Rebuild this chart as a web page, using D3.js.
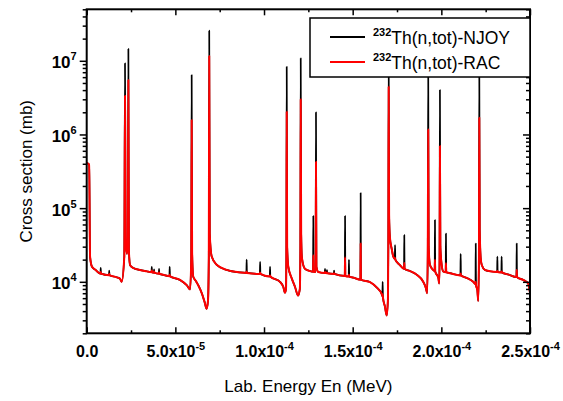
<!DOCTYPE html>
<html>
<head>
<meta charset="utf-8">
<script src="https://cdn.jsdelivr.net/npm/d3@7"></script>
<style>
  html, body { margin: 0; padding: 0; background: #fff; }
  svg { display: block; font-family: "Liberation Sans", Arial, sans-serif; }
</style>
</head>
<body>
<svg id="chart" width="563" height="401"></svg>
<script>
// 232Th total cross section, 0 - 250 eV (energies in eV, cross sections in mb)
const energyEv = [
  0, 1.4, 1.9, 3.0, 5.0,
  7.75, 7.9, 8.05, 12.55, 12.7, 12.85,
  17.0, 18.8, 19.7, 21.2, 21.6, 22.0, 22.7, 23.2, 23.5, 23.8, 24.5, 26.3, 30.0, 33.8,
  36.55, 36.7, 36.85, 37.85, 38.0, 38.15, 40.65, 40.8, 40.95, 44.0, 46.65, 46.8, 46.95,
  52.6, 56.4, 58.3, 58.95, 59.2, 59.45, 60.1, 61.5, 62.9, 65.0, 66.5, 67.6, 68.4, 68.85,
  69.1, 69.4, 70.5, 73.3, 79.0, 86.5,
  90.05, 90.2, 90.35, 97.65, 97.8, 97.95, 103.25, 103.4, 103.55,
  109.0, 110.9, 111.8, 112.4, 112.6, 112.8, 113.05, 113.7, 115.6, 117.5, 119.2, 120.2, 120.5,
  120.7, 120.95, 121.4, 123.1, 125.9,
  127.65, 127.8, 127.95, 129.1, 129.3, 129.55, 130.6,
  134.25, 134.4, 134.55, 135.35, 135.5, 135.65, 139.35, 139.5, 139.65,
  145.55, 145.7, 145.85, 147.75, 147.9, 148.05, 150.4, 154.35, 154.5, 154.65,
  159.8, 163.5, 166.4, 166.75, 166.9, 167.05, 168.2, 169.2, 169.9, 170.1, 170.3, 170.55,
  171.0, 172.0, 172.9, 173.75, 173.9, 174.05, 176.5, 178.95, 179.1, 179.25,
  182.3, 186.1, 189.8, 191.3, 192.0, 192.35, 192.6, 192.85, 193.6, 195.0,
  196.25, 196.4, 196.55, 198.3, 198.8, 199.0, 199.2, 199.45, 200.2, 201.1,
  202.45, 202.6, 202.75, 204.9, 210.75, 210.9, 211.05, 214.3, 218.0,
  219.25, 219.4, 219.55, 220.3, 220.8, 221.2, 221.4, 221.65, 222.2, 222.8, 224.6, 227.4,
  231.45, 231.6, 231.75, 233.85, 234.0, 234.15, 238.0, 242.35, 242.5, 242.65,
  246.2, 249.0, 250.0
];

const njoyMb = [
  4.1e5, 3.9e5, 2.2e4, 1.6e4, 1.45e4,
  1.29e4, 1.55e4, 1.29e4, 1.23e4, 1.42e4, 1.23e4,
  1.15e4, 1.1e4, 1.0e4, 2.2e4, 9.25e6, 3.5e4, 2.4e4, 4.0e4, 1.45e7, 2.6e4, 1.68e4, 1.54e4, 1.45e4, 1.39e4,
  1.35e4, 1.6e4, 1.35e4, 1.33e4, 1.48e4, 1.33e4, 1.29e4, 1.5e4, 1.29e4, 1.23e4, 1.19e4, 1.6e4, 1.19e4,
  1.06e4, 9.0e3, 7.9e3, 2.0e4, 6.4e6, 2.5e4, 1.17e4, 1.03e4, 9.0e3, 6.9e3, 5.3e3, 4.3e3, 5.5e3, 2.0e4,
  2.56e7, 4.5e4, 2.2e4, 1.7e4, 1.45e4, 1.34e4,
  1.32e4, 2.0e4, 1.32e4, 1.28e4, 1.87e4, 1.28e4, 1.18e4, 1.6e4, 1.18e4,
  1.0e4, 8.5e3, 7.1e3, 8.0e3, 2.5e4, 8.3e6, 3.0e4, 1.6e4, 1.12e4, 8.5e3, 6.5e3, 8.0e3, 3.0e4,
  1.08e7, 4.5e4, 2.1e4, 1.5e4, 1.4e4,
  1.37e4, 7.8e4, 1.37e4, 1.36e4, 2.0e6, 1.6e4, 1.36e4,
  1.32e4, 1.5e4, 1.32e4, 1.31e4, 1.44e4, 1.31e4, 1.28e4, 1.42e4, 1.28e4,
  1.2e4, 7.8e4, 1.2e4, 1.18e4, 1.98e4, 1.18e4, 1.14e4, 1.07e4, 1.6e5, 1.07e4,
  9.9e3, 8.4e3, 6.8e3, 6.4e3, 1.0e4, 6.2e3, 4.6e3, 3.5e3, 6.0e3, 3.0e4, 1.2e7, 8.0e4,
  4.0e4, 2.8e4, 2.2e4, 2.05e4, 3.15e4, 2.0e4, 1.7e4, 1.5e4, 4.3e4, 1.5e4,
  1.4e4, 1.25e4, 1.0e4, 8.2e3, 7.0e3, 2.5e4, 8.0e6, 3.0e4, 1.69e4, 1.48e4,
  1.4e4, 6.9e4, 1.38e4, 1.13e4, 9.5e3, 2.0e4, 4.0e6, 3.0e4, 1.69e4, 1.38e4,
  1.35e4, 4.5e4, 1.35e4, 1.31e4, 1.22e4, 2.4e4, 1.22e4, 1.13e4, 1.0e4,
  9.3e3, 3.3e4, 9.0e3, 7.7e3, 5.5e3, 2.0e4, 8.0e6, 5.0e4, 2.1e4, 1.69e4, 1.45e4, 1.39e4,
  1.36e4, 2.2e4, 1.36e4, 1.34e4, 2.2e4, 1.34e4, 1.25e4, 1.16e4, 3.3e4, 1.16e4,
  1.06e4, 9.5e3, 7.0e3
];

const racMb = [
  4.1e5, 3.9e5, 2.2e4, 1.6e4, 1.45e4,
  1.29e4, 1.36e4, 1.29e4, 1.23e4, 1.28e4, 1.23e4,
  1.15e4, 1.1e4, 1.0e4, 2.2e4, 3.36e6, 3.5e4, 2.4e4, 4.0e4, 5.5e6, 2.6e4, 1.68e4, 1.54e4, 1.45e4, 1.39e4,
  1.35e4, 1.42e4, 1.35e4, 1.33e4, 1.38e4, 1.33e4, 1.29e4, 1.34e4, 1.29e4, 1.23e4, 1.19e4, 1.25e4, 1.19e4,
  1.06e4, 9.0e3, 7.9e3, 2.0e4, 1.57e6, 2.5e4, 1.17e4, 1.03e4, 9.0e3, 6.9e3, 5.3e3, 4.3e3, 5.5e3, 2.0e4,
  1.16e7, 4.5e4, 2.2e4, 1.7e4, 1.45e4, 1.34e4,
  1.32e4, 1.38e4, 1.32e4, 1.28e4, 1.33e4, 1.28e4, 1.18e4, 1.22e4, 1.18e4,
  1.0e4, 8.5e3, 7.1e3, 8.0e3, 2.5e4, 2.04e6, 3.0e4, 1.6e4, 1.12e4, 8.5e3, 6.5e3, 8.0e3, 3.0e4,
  3.0e6, 4.5e4, 2.1e4, 1.5e4, 1.4e4,
  1.37e4, 2.3e4, 1.37e4, 1.36e4, 4.27e5, 1.6e4, 1.36e4,
  1.32e4, 1.36e4, 1.32e4, 1.31e4, 1.34e4, 1.31e4, 1.28e4, 1.31e4, 1.28e4,
  1.2e4, 2.15e4, 1.2e4, 1.18e4, 1.25e4, 1.18e4, 1.14e4, 1.07e4, 3.3e4, 1.07e4,
  9.9e3, 8.4e3, 6.8e3, 6.4e3, 6.8e3, 6.2e3, 4.6e3, 3.5e3, 6.0e3, 3.0e4, 4.45e6, 8.0e4,
  4.0e4, 2.8e4, 2.2e4, 2.05e4, 2.1e4, 2.0e4, 1.7e4, 1.5e4, 1.8e4, 1.5e4,
  1.4e4, 1.25e4, 1.0e4, 8.2e3, 7.0e3, 2.5e4, 1.17e6, 3.0e4, 1.69e4, 1.48e4,
  1.4e4, 2.0e4, 1.38e4, 1.13e4, 9.5e3, 2.0e4, 7.0e5, 3.0e4, 1.69e4, 1.38e4,
  1.35e4, 1.78e4, 1.35e4, 1.31e4, 1.22e4, 1.3e4, 1.22e4, 1.13e4, 1.0e4,
  9.3e3, 1.0e4, 9.0e3, 7.7e3, 5.5e3, 2.0e4, 1.69e6, 5.0e4, 2.1e4, 1.69e4, 1.45e4, 1.39e4,
  1.36e4, 1.4e4, 1.36e4, 1.34e4, 1.38e4, 1.34e4, 1.25e4, 1.16e4, 1.45e4, 1.16e4,
  1.06e4, 9.5e3, 7.0e3
];

const seriesNames = ["Th(n,tot)-NJOY", "Th(n,tot)-RAC"];
const seriesColors = ["#000000", "#ff0000"];

// axis ticks (energy axis in MeV)
const xTickValues = [0, 5e-5, 1e-4, 1.5e-4, 2e-4, 2.5e-4];
const xTickMantissa = ["0.0", "5.0x10", "1.0x10", "1.5x10", "2.0x10", "2.5x10"];
const xTickExponent = ["", "-5", "-4", "-4", "-4", "-4"];
const xMinorValues = [2.5e-5, 7.5e-5, 1.25e-4, 1.75e-4, 2.25e-4];
const yTickValues = [1e4, 1e5, 1e6, 1e7];
const yTickExponent = ["4", "5", "6", "7"];

const EV_TO_MEV = 1e-6;
const box = { left: 86.7, right: 530, top: 9.3, bottom: 333.3 };

const svg = d3.select("#chart");

const x = d3.scaleLinear().domain([0, 2.5e-4]).range([box.left, box.right]);
const y = d3.scaleLog().domain([2e3, 5e7]).range([box.bottom, box.top]);
const yMinor = y.ticks().filter(v => !yTickValues.includes(v) && Math.abs(Math.log10(v) % 1) > 1e-9);

svg.append("defs").append("clipPath").attr("id", "plotclip")
  .append("rect")
  .attr("x", box.left).attr("y", box.top)
  .attr("width", box.right - box.left).attr("height", box.bottom - box.top);

// curves
const points = energyEv.map((e, i) => ({ e: e * EV_TO_MEV, njoy: njoyMb[i], rac: racMb[i] }));
const lineFor = key => d3.line()
  .x(d => x(d.e))
  .y(d => y(d[key]))
  .curve(d3.curveMonotoneX);

const curves = svg.append("g").attr("clip-path", "url(#plotclip)");
curves.append("path").datum(points)
  .attr("d", lineFor("njoy"))
  .attr("fill", "none").attr("stroke", seriesColors[0]).attr("stroke-width", 1.7)
  .attr("stroke-linejoin", "round");
curves.append("path").datum(points)
  .attr("d", lineFor("rac"))
  .attr("fill", "none").attr("stroke", seriesColors[1]).attr("stroke-width", 2)
  .attr("stroke-linejoin", "round");

// axes
const noDomain = g => g.select(".domain").remove();
const styleTicks = g => g.selectAll("line").attr("stroke", "#000").attr("stroke-width", 1.5);

function addAxis(axis, tx, ty) {
  return svg.append("g").attr("transform", `translate(${tx},${ty})`)
    .call(axis).call(noDomain).call(styleTicks)
    .call(g => g.selectAll("text").remove());
}

// left (outward), right (inward)
addAxis(d3.axisLeft(y).tickValues(yMinor).tickSize(4), box.left, 0);
const gLeft = addAxis(d3.axisLeft(y).tickValues(yTickValues).tickSize(7), box.left, 0);
addAxis(d3.axisLeft(y).tickValues(yMinor).tickSize(4), box.right, 0);
addAxis(d3.axisLeft(y).tickValues(yTickValues).tickSize(7), box.right, 0);

// bottom and top (inward)
addAxis(d3.axisTop(x).tickValues(xMinorValues).tickSize(3), 0, box.bottom);
const gBottom = addAxis(d3.axisTop(x).tickValues(xTickValues).tickSize(6), 0, box.bottom);
addAxis(d3.axisBottom(x).tickValues(xMinorValues).tickSize(3), 0, box.top);
addAxis(d3.axisBottom(x).tickValues(xTickValues).tickSize(6), 0, box.top);

// frame
svg.append("rect")
  .attr("x", box.left).attr("y", box.top)
  .attr("width", box.right - box.left).attr("height", box.bottom - box.top)
  .attr("fill", "none").attr("stroke", "#000").attr("stroke-width", 2);

// tick labels
gLeft.selectAll(".tick").each(function (d, i) {
  const t = d3.select(this).append("text")
    .attr("x", -10).attr("y", 7)
    .attr("text-anchor", "end")
    .attr("fill", "#000")
    .style("font-size", "17px").style("font-weight", "bold");
  t.append("tspan").text("10");
  t.append("tspan").attr("dy", -8).style("font-size", "11px").text(yTickExponent[i]);
});

gBottom.selectAll(".tick").each(function (d, i) {
  const t = d3.select(this).append("text")
    .attr("x", 0).attr("y", 24)
    .attr("text-anchor", "middle")
    .attr("fill", "#000")
    .style("font-size", "16px").style("font-weight", "bold");
  t.append("tspan").text(xTickMantissa[i]);
  if (xTickExponent[i]) {
    t.append("tspan").attr("dy", -7).style("font-size", "11px").text(xTickExponent[i]);
  }
});

// axis titles
svg.append("text")
  .attr("x", (box.left + box.right) / 2).attr("y", 392)
  .attr("text-anchor", "middle")
  .style("font-size", "17px")
  .text("Lab. Energy En (MeV)");

svg.append("text")
  .attr("transform", `translate(32,${(box.top + box.bottom) / 2}) rotate(-90)`)
  .attr("text-anchor", "middle")
  .style("font-size", "17px")
  .text("Cross section (mb)");

// legend
const legend = svg.append("g");
legend.append("rect")
  .attr("x", 310).attr("y", 18).attr("width", 220).attr("height", 59)
  .attr("fill", "#fff").attr("stroke", "#000").attr("stroke-width", 1.5);

seriesNames.forEach((name, i) => {
  const ly = 37 + i * 25;
  legend.append("line")
    .attr("x1", 330).attr("x2", 365).attr("y1", ly).attr("y2", ly)
    .attr("stroke", seriesColors[i]).attr("stroke-width", 1.8);
  const t = legend.append("text").attr("x", 373).attr("y", ly + 6.5)
    .style("font-size", "17.5px");
  t.append("tspan").attr("dy", -8).style("font-size", "11px").style("font-weight", "bold").text("232");
  t.append("tspan").attr("dy", 8).text(name);
});
</script>
</body>
</html>
